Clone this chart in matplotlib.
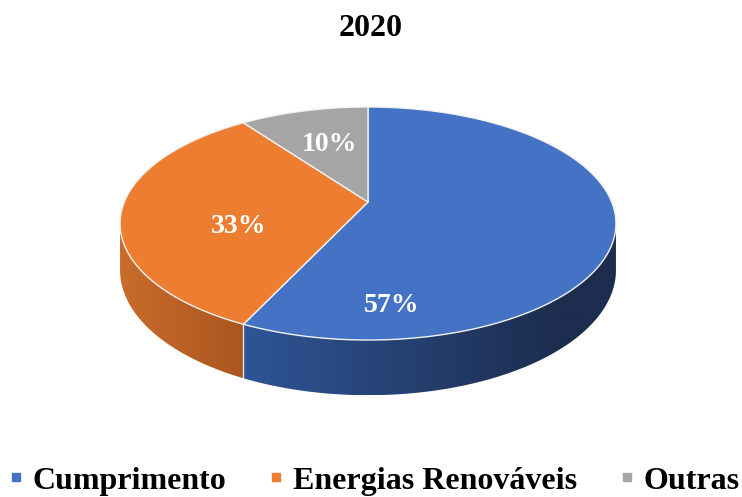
import numpy as np
import matplotlib.pyplot as plt
from matplotlib.patches import Polygon
from matplotlib.lines import Line2D
from matplotlib.colors import to_rgb

# dados do gráfico
categorias = ["Cumprimento", "Energias Renováveis", "Outras"]
valores = [57, 33, 10]
cores = ["#4472C4", "#ED7D31", "#A5A5A5"]
# gradiente das laterais (esquerda, direita)
cores_lado = [("#2F5597", "#1C2D4F"), ("#C96C2C", "#AB5620"), ("#7F7F7F", "#5F5F5F")]
titulo = "2020"

# posição dos rótulos (ângulo a partir do topo, raio relativo)
pos_rotulos = [(174, 0.79), (248, 0.55), (343, 0.59)]

# geometria da pizza 3D em perspectiva (pixels)
cx, cy = 368.0, 202.0
R, B = 243.7, 75.3
k = 0.1845
prof = 45.0

plt.rcParams["font.family"] = ["Liberation Serif", "DejaVu Serif"]

fig = plt.figure(figsize=(7.42, 4.97), dpi=100)
ax = fig.add_axes([0, 0, 1, 1])
ax.set_xlim(0, 742)
ax.set_ylim(497, 0)
ax.axis("off")


def proj(theta, r=1.0, d=0.0):
    t = np.radians(theta)
    u = r * np.sin(t)
    v = -r * np.cos(t)
    w = 1 - k * v
    return cx + R * u / w, (cy + B * v + d) / w


ang = np.concatenate([[0], np.cumsum(valores)]) * 360.0 / sum(valores)
s1 = np.degrees(np.arccos(-k))
s2 = 360 - s1

# laterais visíveis
for i in range(len(valores)):
    a, b = max(ang[i], s1), min(ang[i + 1], s2)
    if b <= a:
        continue
    t = np.linspace(a, b, 200)
    xt, yt = proj(t)
    xb, yb = proj(t[::-1], d=prof)
    pts = np.column_stack([np.concatenate([xt, xb]), np.concatenate([yt, yb])])
    poly = Polygon(pts, closed=True, facecolor="none", edgecolor="none")
    ax.add_patch(poly)
    x0, x1 = pts[:, 0].min(), pts[:, 0].max()
    c0, c1 = np.array(to_rgb(cores_lado[i][0])), np.array(to_rgb(cores_lado[i][1]))
    xs = np.linspace(x0, x1, 300)
    if i == 0:
        f = np.clip((xs - x0) / (560 - x0), 0, 1)
    else:
        f = (xs - x0) / (x1 - x0)
    grad = (c0[None, :] * (1 - f[:, None]) + c1[None, :] * f[:, None])[None, :, :]
    im = ax.imshow(grad, extent=[x0, x1, pts[:, 1].max(), pts[:, 1].min()],
                   aspect="auto", interpolation="bilinear", zorder=1)
    im.set_clip_path(poly)

# linha entre as laterais
for a in ang[1:-1]:
    if s1 < a < s2:
        x, y = proj(a)
        xb, yb = proj(a, d=prof)
        ax.plot([x, xb], [y, yb], color="#E6E6E6", lw=1, zorder=2)

# faces superiores
for i in range(len(valores)):
    t = np.linspace(ang[i], ang[i + 1], 200)
    xt, yt = proj(t)
    pts = np.column_stack([np.concatenate([[cx], xt]), np.concatenate([[cy], yt])])
    ax.add_patch(Polygon(pts, closed=True, facecolor=cores[i],
                         edgecolor="#F2F2F2", lw=1, joinstyle="round", zorder=3))

# rótulos de percentagem
for i, (a, r) in enumerate(pos_rotulos):
    x, y = proj(a, r)
    ax.text(x, y, f"{valores[i]}%", color="white", fontsize=20,
            fontweight="bold", ha="center", va="center", zorder=5)

ax.text(371, 28, titulo, fontsize=23, fontweight="bold", ha="center", va="center")

handles = [Line2D([], [], marker="s", ls="none", color=c, markersize=6)
           for c in cores]
ax.legend(handles, categorias, loc="lower center", bbox_to_anchor=(0.504, -0.055),
          ncol=3, frameon=False, handlelength=0.5, handletextpad=0.28,
          columnspacing=1.3, borderaxespad=0.5,
          prop={"size": 23, "weight": "bold"})

fig.savefig("out.png", dpi=100)
